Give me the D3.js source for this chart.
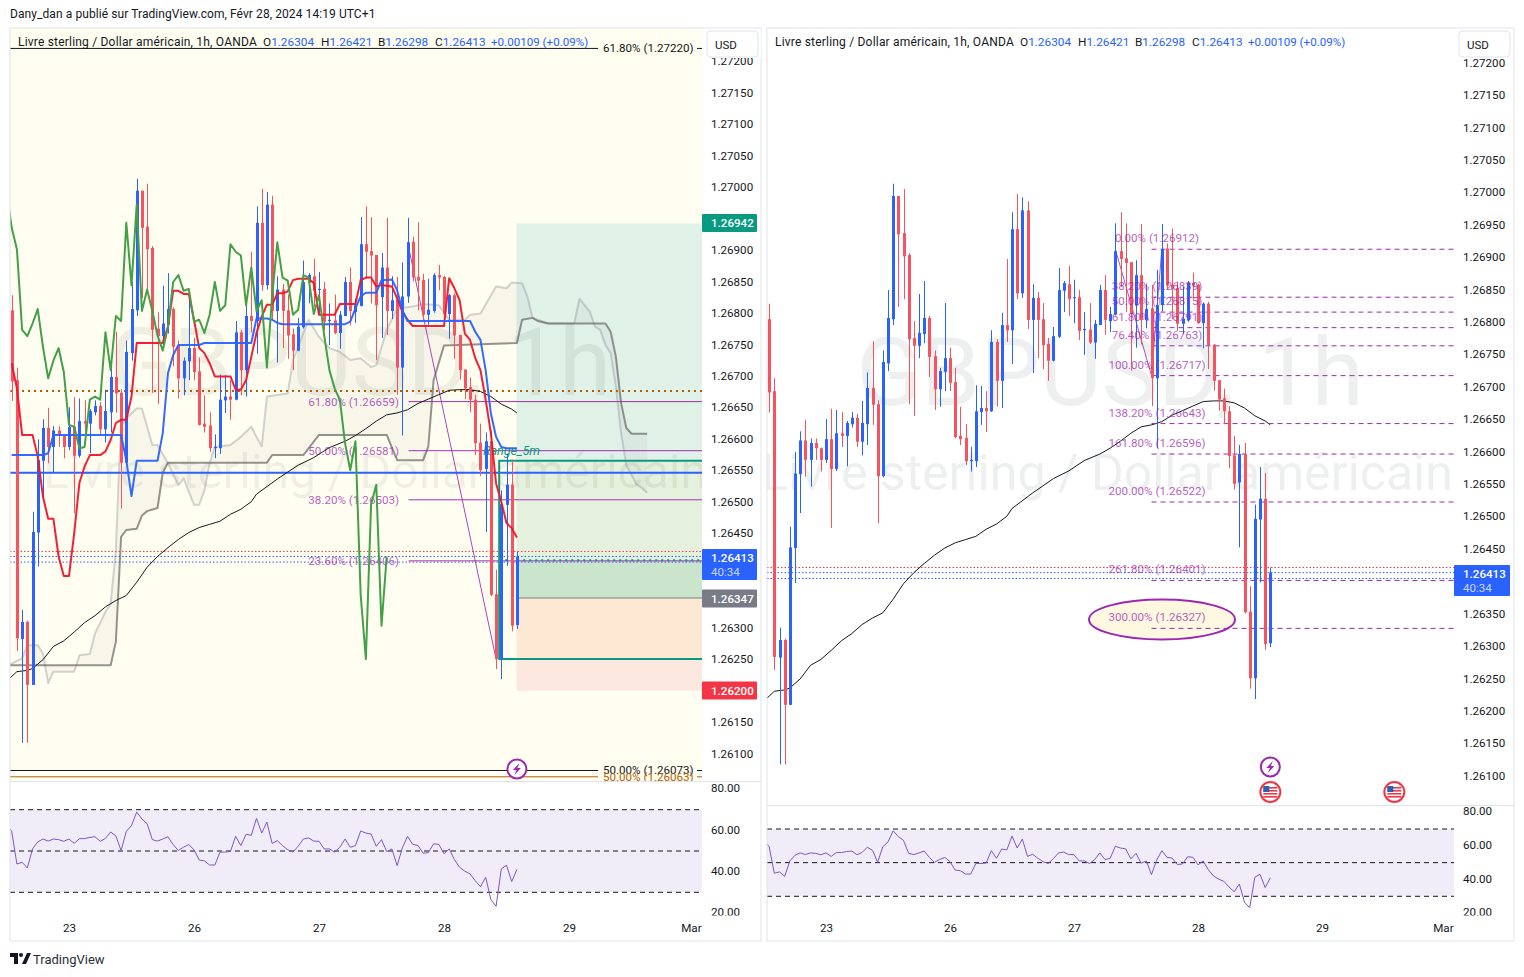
<!DOCTYPE html>
<html><head><meta charset="utf-8">
<script src="https://cdn.jsdelivr.net/npm/d3@7"></script>
<style>
html,body{margin:0;padding:0;background:#fff;overflow:hidden}
svg{display:block}
text{font-family:Roboto,"Liberation Sans",sans-serif;font-size:11.8px;fill:#131722}
.axis path,.axis line{display:none}
.axis text{font-family:Roboto,"Liberation Sans",sans-serif;font-size:11.6px;fill:#131722}
</style></head><body>
<svg id="c" width="1524" height="977"></svg>
<script>
// ---- candles: first bar is 11 hours before Feb 23 00:00, one bar per hour
const firstHour=-11;
const open=[1.26804,1.26693,1.26282,1.26309,1.26209,1.26451,1.26565,1.26617,1.26587,1.26613,1.26605,1.26587,1.26619,1.26573,1.26628,1.26624,1.26642,1.26652,1.26615,1.26642,1.26698,1.26673,1.26562,1.26736,1.26804,1.26994,1.26937,1.26903,1.26775,1.26763,1.26781,1.26806,1.26747,1.26696,1.26723,1.26744,1.26707,1.26624,1.26621,1.26585,1.26585,1.26661,1.26667,1.26662,1.26769,1.26709,1.26795,1.26787,1.26943,1.26844,1.26972,1.26803,1.26837,1.26804,1.26766,1.26740,1.26777,1.26848,1.26858,1.26837,1.26838,1.26787,1.26788,1.26768,1.26795,1.26849,1.26801,1.26811,1.26909,1.26898,1.26892,1.26825,1.26872,1.26803,1.26821,1.26713,1.26826,1.26913,1.26857,1.26852,1.26797,1.26803,1.26860,1.26857,1.26798,1.26828,1.26765,1.26710,1.26682,1.26662,1.26594,1.26552,1.26596,1.26353,1.26250,1.26495,1.26527,1.26304];
const high=[1.26828,1.26713,1.26328,1.26311,1.26484,1.26599,1.26631,1.26649,1.26620,1.26620,1.26606,1.26650,1.26666,1.26664,1.26661,1.26647,1.26661,1.26658,1.26678,1.26722,1.26770,1.26679,1.26756,1.26849,1.27013,1.26994,1.27005,1.26906,1.26801,1.26843,1.26863,1.26809,1.26756,1.26729,1.26829,1.26760,1.26729,1.26669,1.26642,1.26607,1.26702,1.26701,1.26693,1.26787,1.26773,1.26814,1.26897,1.26969,1.26997,1.26992,1.26986,1.26858,1.26846,1.26829,1.26775,1.26792,1.26883,1.26863,1.26886,1.26865,1.26849,1.26815,1.26829,1.26803,1.26857,1.26872,1.26823,1.26952,1.26969,1.26952,1.26892,1.26895,1.26951,1.26858,1.26857,1.26880,1.26951,1.26921,1.26944,1.26862,1.26854,1.26863,1.26876,1.26859,1.26830,1.26831,1.26765,1.26710,1.26697,1.26670,1.26624,1.26610,1.26613,1.26392,1.26518,1.26576,1.26567,1.26421];
const low=[1.26660,1.26263,1.26117,1.26117,1.26209,1.26397,1.26505,1.26561,1.26546,1.26587,1.26569,1.26582,1.26482,1.26570,1.26607,1.26577,1.26637,1.26607,1.26594,1.26610,1.26641,1.26489,1.26560,1.26724,1.26795,1.26823,1.26835,1.26673,1.26655,1.26744,1.26767,1.26715,1.26664,1.26669,1.26693,1.26693,1.26621,1.26610,1.26579,1.26569,1.26576,1.26641,1.26630,1.26661,1.26669,1.26667,1.26769,1.26735,1.26835,1.26837,1.26789,1.26721,1.26744,1.26727,1.26709,1.26739,1.26775,1.26815,1.26809,1.26798,1.26772,1.26749,1.26766,1.26743,1.26795,1.26780,1.26784,1.26810,1.26854,1.26815,1.26725,1.26760,1.26765,1.26790,1.26670,1.26605,1.26816,1.26850,1.26804,1.26786,1.26781,1.26800,1.26836,1.26797,1.26759,1.26727,1.26694,1.26663,1.26642,1.26574,1.26541,1.26452,1.26350,1.26234,1.26218,1.26398,1.26294,1.26298];
const close=[1.26691,1.26283,1.26309,1.26209,1.26452,1.26566,1.26617,1.26587,1.26613,1.26605,1.26587,1.26619,1.26573,1.26628,1.26624,1.26644,1.26652,1.26615,1.26644,1.26698,1.26672,1.26562,1.26738,1.26806,1.26994,1.26935,1.26901,1.26773,1.26763,1.26783,1.26806,1.26746,1.26696,1.26724,1.26744,1.26706,1.26622,1.26619,1.26585,1.26587,1.26662,1.26667,1.26662,1.26769,1.26709,1.26795,1.26787,1.26943,1.26844,1.26972,1.26803,1.26837,1.26803,1.26764,1.26740,1.26778,1.26849,1.26860,1.26835,1.26838,1.26786,1.26789,1.26768,1.26797,1.26849,1.26803,1.26812,1.26909,1.26897,1.26891,1.26812,1.26872,1.26803,1.26820,1.26713,1.26826,1.26912,1.26856,1.26851,1.26797,1.26805,1.26860,1.26856,1.26798,1.26828,1.26764,1.26709,1.26680,1.26662,1.26593,1.26550,1.26596,1.26352,1.26250,1.26496,1.26527,1.26303,1.26413];

// ---- ichimoku, left chart only
const tenkan=[1.26720,1.26680,1.26606,1.26606,1.26606,1.26572,1.26508,1.26473,1.26473,1.26413,1.26382,1.26382,1.26450,1.26530,1.26556,1.26574,1.26574,1.26574,1.26580,1.26598,1.26625,1.26630,1.26630,1.26667,1.26752,1.26752,1.26752,1.26752,1.26752,1.26752,1.26778,1.26835,1.26835,1.26830,1.26830,1.26789,1.26744,1.26736,1.26720,1.26699,1.26699,1.26699,1.26699,1.26678,1.26678,1.26693,1.26730,1.26768,1.26794,1.26813,1.26813,1.26831,1.26831,1.26834,1.26852,1.26854,1.26854,1.26854,1.26847,1.26797,1.26797,1.26797,1.26797,1.26814,1.26814,1.26814,1.26814,1.26852,1.26856,1.26856,1.26842,1.26844,1.26843,1.26842,1.26823,1.26802,1.26789,1.26779,1.26779,1.26779,1.26779,1.26779,1.26779,1.26779,1.26855,1.26839,1.26820,1.26767,1.26757,1.26728,1.26709,1.26662,1.26609,1.26529,1.26500,1.26466,1.26458,1.26443];
const kijun=[1.26574,1.26574,1.26574,1.26574,1.26574,1.26574,1.26574,1.26577,1.26606,1.26606,1.26606,1.26606,1.26606,1.26606,1.26606,1.26606,1.26606,1.26606,1.26606,1.26606,1.26606,1.26606,1.26566,1.26509,1.26565,1.26565,1.26565,1.26565,1.26565,1.26609,1.26704,1.26733,1.26749,1.26749,1.26749,1.26749,1.26749,1.26752,1.26752,1.26752,1.26752,1.26752,1.26752,1.26752,1.26752,1.26752,1.26752,1.26791,1.26791,1.26791,1.26789,1.26784,1.26782,1.26782,1.26782,1.26782,1.26782,1.26782,1.26782,1.26782,1.26782,1.26782,1.26782,1.26782,1.26782,1.26786,1.26807,1.26826,1.26832,1.26832,1.26832,1.26852,1.26852,1.26853,1.26836,1.26804,1.26787,1.26787,1.26787,1.26787,1.26787,1.26787,1.26787,1.26787,1.26787,1.26787,1.26787,1.26787,1.26787,1.26770,1.26757,1.26709,1.26640,1.26603,1.26587,1.26585,1.26585,1.26585];
const laggingFirstHour=-12;
const lagging=[1.26994,1.26935,1.26901,1.26773,1.26763,1.26783,1.26806,1.26746,1.26696,1.26724,1.26744,1.26706,1.26622,1.26619,1.26585,1.26587,1.26662,1.26667,1.26662,1.26769,1.26709,1.26795,1.26787,1.26943,1.26844,1.26972,1.26803,1.26837,1.26803,1.26764,1.26740,1.26778,1.26849,1.26860,1.26835,1.26838,1.26786,1.26789,1.26768,1.26797,1.26849,1.26803,1.26812,1.26909,1.26897,1.26891,1.26812,1.26872,1.26803,1.26820,1.26713,1.26826,1.26912,1.26856,1.26851,1.26797,1.26805,1.26860,1.26856,1.26798,1.26828,1.26764,1.26709,1.26680,1.26662,1.26593,1.26550,1.26596,1.26352,1.26250,1.26496,1.26527,1.26303,1.26413];
const spanAHours=[-12,-9,-8,-6,-5,-4,-3,1,2,4,5,7,8,9,9.6,10,11,13,14,15,16,17,19,21,22,24,25,26,27,28,31,33,35,36,37,38,42,43,46,48,50,52,54,56,58,59,61,63,66,68,71,73,76,77,79,82,84,85,87,88,89,92,97,98,100,101,102,103,104,105,106,107,109,110,111];
const spanA=[1.26239,1.26251,1.26272,1.26272,1.26259,1.26212,1.26230,1.26230,1.26256,1.26258,1.26291,1.26325,1.26338,1.26423,1.26550,1.26619,1.26632,1.26648,1.26648,1.26619,1.26590,1.26590,1.26561,1.26526,1.26537,1.26495,1.26495,1.26518,1.26561,1.26587,1.26590,1.26603,1.26619,1.26603,1.26588,1.26667,1.26672,1.26725,1.26789,1.26762,1.26744,1.26738,1.26725,1.26728,1.26714,1.26717,1.26773,1.26807,1.26810,1.26814,1.26812,1.26789,1.26789,1.26797,1.26799,1.26842,1.26839,1.26848,1.26847,1.26826,1.26792,1.26783,1.26783,1.26822,1.26802,1.26778,1.26773,1.26749,1.26736,1.26683,1.26609,1.26558,1.26527,1.26522,1.26514];
const spanBHours=[-12,8,9,10,11,13,14,15,17,18,19,38,39,45,48,61,63,68,69,70,72,86,87,89,90,92,103,104,105,106,107,108,111];
const spanB=[1.26240,1.26240,1.26278,1.26444,1.26455,1.26457,1.26478,1.26485,1.26490,1.26546,1.26562,1.26562,1.26574,1.26574,1.26606,1.26606,1.26566,1.26566,1.26588,1.26693,1.26748,1.26752,1.26789,1.26792,1.26787,1.26783,1.26783,1.26770,1.26730,1.26657,1.26617,1.26608,1.26608];

// ---- moving average, both charts
const maHours=[-12,-10,-8,-7,-5,-3,-1,1,3,5,7,9,11,13,15,17,19,21,23,25,27,29,31,33,35,36,40,44,47,50,53,55,57,59,61,63,65,67,69,71,73,75,77,79,81,83,85,86];
const maValues=[1.26215,1.26230,1.26232,1.26235,1.26249,1.26270,1.26279,1.26293,1.26308,1.26319,1.26333,1.26343,1.26351,1.26372,1.26396,1.26413,1.26427,1.26440,1.26451,1.26459,1.26464,1.26469,1.26480,1.26488,1.26500,1.26512,1.26536,1.26558,1.26570,1.26586,1.26596,1.26605,1.26616,1.26628,1.26638,1.26641,1.26646,1.26656,1.26663,1.26670,1.26677,1.26678,1.26678,1.26675,1.26667,1.26655,1.26647,1.26641];

// ---- RSI, starts at hour -12
const rsiFirstHour=-12;
const rsi=[63.1,59.5,43.7,44.5,41.8,51.0,54.4,55.8,54.8,55.8,55.5,54.7,55.8,53.7,56.0,56.0,56.6,56.9,54.7,56.1,59.2,57.3,50.2,59.5,62.3,68.9,65.5,63.2,55.5,54.8,55.8,56.9,53.1,50.2,51.9,53.1,50.6,45.6,45.2,43.2,43.2,49.5,49.5,49.8,57.1,52.6,58.1,57.6,65.8,58.7,64.0,53.7,55.0,52.6,50.6,49.5,52.3,55.8,56.3,54.8,54.7,51.0,51.0,49.5,51.8,55.8,51.8,52.6,59.7,58.7,58.2,52.3,55.5,49.7,51.0,42.9,51.5,57.1,53.2,52.7,48.9,49.2,53.5,53.2,48.7,51.0,45.8,42.1,40.2,38.9,35.6,32.7,37.3,26.5,23.2,41.3,43.1,35.2,41.0];
const rsiLevels=[70,50,30];
const rsiTicks=[80,60,40,20];

// ---- axes
const priceTicks=[1.272,1.2715,1.271,1.2705,1.27,1.2695,1.269,1.2685,1.268,1.2675,1.267,1.2665,1.266,1.2655,1.265,1.2645,1.264,1.2635,1.263,1.2625,1.262,1.2615,1.261];
const dayHours=[0,24,48,72,96,119.4];
const dayLabels=["23","26","27","28","29","Mar"];

// ---- left chart levels
const leftFibPrices=[1.26659,1.26581,1.26503,1.26406];
const leftFibLabels=["61.80% (1.26659)","50.00% (1.26581)","38.20% (1.26503)","23.60% (1.26406)"];
const leftFarPrices=[1.27220,1.26073,1.26063];
const leftFarLabels=["61.80% (1.27220)","50.00% (1.26073)","50.00% (1.26063)"];
const leftFarColors=["#131722","#131722","#b45f06"];
const supportPrice=1.26676, resistPrice=1.26546;
const dottedPrices=[1.26421,1.26413,1.26404];
const dottedColors=["#f23645","#2962ff","#2962ff"];
const bandTops=[1.26942,1.26565,1.26406,1.26347,1.26250];
const bandBottoms=[1.26565,1.26406,1.26347,1.26250,1.26200];
const bandColors=["#e0f1e8","#e5f1dc","#cbe5cc","#fde8d4","#fde8df"];
const rangeTop=1.26565, rangeMid=1.26407, rangeBottom=1.26250;

// ---- right chart fibonacci
const rightFibPrices=[1.26912,1.26838,1.26815,1.26791,1.26763,1.26717,1.26643,1.26596,1.26522,1.26401,1.26327];
const rightFibLabels=["0.00% (1.26912)","38.20% (1.26839)","50.00% (1.26815)","61.80% (1.26791)","76.40% (1.26763)","100.00% (1.26717)","138.20% (1.26643)","161.80% (1.26596)","200.00% (1.26522)","261.80% (1.26401)","300.00% (1.26327)"];

const purple="#9c27b0", blue="#2962ff", redC="#f7525f", teal="#089981";
const svg=d3.select("#c");
const defs=svg.append("defs");
function clip(id,x,y,w,h){defs.append("clipPath").attr("id",id).append("rect").attr("x",x).attr("y",y).attr("width",w).attr("height",h);return "url(#"+id+")";}
function hourAt(i,first){return first+i;}
const hours=close.map((_,i)=>hourAt(i,firstHour));

function drawLine(g,xs,ys,hs,vals,color,w,op){
  g.append("path").datum(vals).attr("fill","none").attr("stroke",color).attr("stroke-width",w).attr("stroke-opacity",op||1).attr("stroke-linejoin","round")
   .attr("d",d3.line().x((d,i)=>xs(hs[i])).y(d=>ys(d)));
}
function candles(g,xs,ys){
  const b=g.selectAll("g.b").data(hours).join("g");
  b.append("line").attr("x1",d=>Math.round(xs(d))+.5).attr("x2",d=>Math.round(xs(d))+.5)
    .attr("y1",(d,i)=>ys(high[i])).attr("y2",(d,i)=>ys(low[i]))
    .attr("stroke",(d,i)=>close[i]>=open[i]?blue:redC).attr("stroke-width",1);
  b.append("rect").attr("x",d=>Math.round(xs(d))-1).attr("width",3)
    .attr("y",(d,i)=>ys(Math.max(open[i],close[i])))
    .attr("height",(d,i)=>Math.max(1,Math.abs(ys(open[i])-ys(close[i]))))
    .attr("fill",(d,i)=>close[i]>=open[i]?blue:redC);
}
function bolt(g,cx,cy){
  g.append("circle").attr("cx",cx).attr("cy",cy).attr("r",9.5).attr("fill","#fff").attr("stroke",purple).attr("stroke-width",2);
  g.append("path").attr("transform",`translate(${cx},${cy})`).attr("d","M2.5,-6 L-4,1 L-0.5,1 L-2.5,6 L4,-1 L0.5,-1 Z").attr("fill",purple);
}
function flag(g,cx,cy){
  g.append("circle").attr("cx",cx).attr("cy",cy).attr("r",10).attr("fill","#fff").attr("stroke","#f23645").attr("stroke-width",2);
  [-5,-2,1,4].forEach(d=>g.append("rect").attr("x",cx-7).attr("y",cy+d).attr("width",14).attr("height",1.6).attr("fill","#f23645"));
  g.append("rect").attr("x",cx-7).attr("y",cy-6).attr("width",6).attr("height",6).attr("fill","#2962b0");
}
function usd(x){
  svg.append("rect").attr("x",x-3).attr("y",29).attr("width",57).attr("height",29).attr("fill","#fff");
  svg.append("rect").attr("x",x).attr("y",31).attr("width",51).attr("height",26).attr("rx",4).attr("fill","#fff").attr("stroke","#e0e3eb");
  svg.append("text").attr("x",x+8).attr("y",48.5).text("USD").style("font-size","11.5px");
}
function tag(x,yc,w,h,color,txt,sub){
  svg.append("rect").attr("x",x).attr("y",yc-h/2).attr("width",w).attr("height",h).attr("rx",1).attr("fill",color);
  svg.append("text").attr("x",x+9).attr("y",sub?yc-h/2+13:yc+4).text(txt).style("fill","#fff").style("font-weight",500).style("font-size","11.6px");
  if(sub) svg.append("text").attr("x",x+9).attr("y",yc-h/2+27).text(sub).style("fill","#c7d5ff").style("font-size","11.6px");
}
function legend(x0){
  const g=svg.append("g");
  g.append("text").attr("x",x0).attr("y",46).text("Livre sterling / Dollar américain, 1h, OANDA").style("font-size","12px").style("letter-spacing",".2px");
  const parts=[["O",245,"1.26304"],["H",303,"1.26421"],["B",360,"1.26298"],["C",417,"1.26413"]];
  parts.forEach(p=>{
    const t=g.append("text").attr("x",x0+p[1]).attr("y",46);
    t.append("tspan").text(p[0]);
    t.append("tspan").text(p[2]).style("fill",blue);
  });
  g.append("text").attr("x",x0+473).attr("y",46).text("+0.00109 (+0.09%)").style("fill",blue).style("font-size","11.6px");
}
function axes(xs,ys,ry,axisX){
  svg.append("g").attr("class","axis").attr("transform",`translate(${axisX},0)`)
    .call(d3.axisRight(ys).tickValues(priceTicks).tickSize(0).tickPadding(0).tickFormat(d3.format(".5f")))
    .call(g=>g.select(".domain").remove());
  svg.append("g").attr("class","axis").attr("transform",`translate(${axisX},-1)`)
    .call(d3.axisRight(ry).tickValues(rsiTicks).tickSize(0).tickPadding(0).tickFormat(d3.format(".2f")))
    .call(g=>g.select(".domain").remove());
}
function timeAxis(xs,y){
  svg.append("g").attr("class","axis").attr("transform",`translate(0,${y})`)
    .call(d3.axisBottom(xs).tickValues(dayHours).tickSize(0).tickPadding(0).tickFormat((d,i)=>dayLabels[i]))
    .call(g=>g.select(".domain").remove());
}
function rsiPane(xs,ry,left,right,cl){
  const g=svg.append("g").attr("clip-path",cl);
  g.append("rect").attr("x",left).attr("width",right-left).attr("y",ry(70)).attr("height",ry(30)-ry(70)).attr("fill","#7e57c2").attr("fill-opacity",.11);
  rsiLevels.forEach(l=>g.append("line").attr("x1",left).attr("x2",right).attr("y1",ry(l)).attr("y2",ry(l)).attr("stroke","#131722").attr("stroke-dasharray","5 4"));
  drawLine(g,xs,ry,rsi.map((_,i)=>rsiFirstHour+i),rsi,"#7e57c2",1);
}
function watermark(g,cx1,cx2,y1,y2,size1,size2){
  g.append("text").attr("x",cx1).attr("y",y1).attr("text-anchor","middle").text("GBPUSD, 1h").style("font-size",size1+"px").style("fill","#131722").style("fill-opacity",.07);
  g.append("text").attr("x",cx2).attr("y",y2).attr("text-anchor","middle").text("Livre sterling / Dollar américain").style("font-size",size2+"px").style("fill","#131722").style("fill-opacity",.07);
}

// ===== page text
svg.append("text").attr("x",10).attr("y",18).text("Dany_dan a publié sur TradingView.com, Févr 28, 2024 14:19 UTC+1").style("font-size","12px").style("letter-spacing",".08px");
const logo=svg.append("g").attr("transform","translate(10,953)");
logo.append("path").attr("d","M0,0 H8 V11 H4 V4 H0 Z M17,0 H21 L16,11 H12 Z").attr("fill","#131722");
logo.append("circle").attr("cx",11).attr("cy",2).attr("r",2).attr("fill","#131722");
svg.append("text").attr("x",33).attr("y",964).text("TradingView").style("font-size","13px").style("fill","#2a2e39");

// ===== LEFT
{
  const xs=d3.scaleLinear().domain([0,96]).range([69,569]);
  const ys=d3.scaleLinear().domain([1.2715,1.261]).range([92.5,753.5]);
  const ry=d3.scaleLinear().domain([70,30]).range([809.7,892.3]);
  const L=10,R=702,T=28,B=781;
  svg.append("rect").attr("x",L).attr("y",T).attr("width",R-L).attr("height",B-T).attr("fill","#fffef0");
  const g=svg.append("g").attr("clip-path",clip("cl",L,T,R-L,B-T));
  const bx=xs(86)-.5;
  bandTops.forEach((t,i)=>g.append("rect").attr("x",bx).attr("width",R-bx).attr("y",ys(t)).attr("height",ys(bandBottoms[i])-ys(t)).attr("fill",bandColors[i]));
  watermark(g,360,375,395,488,94,48);
  // cloud
  const a=spanAHours.map((h,i)=>[h,spanA[i]]), b=spanBHours.map((h,i)=>[h,spanB[i]]);
  g.append("path").attr("d",d3.line().x(d=>xs(d[0])).y(d=>ys(d[1]))(a.concat(b.slice().reverse()))+"Z").attr("fill","#787b86").attr("fill-opacity",.06);
  drawLine(g,xs,ys,spanAHours,spanA,"#787b86",2,.32);
  drawLine(g,xs,ys,spanBHours,spanB,"#6b6b66",2,.72);
  // levels
  g.append("line").attr("x1",L).attr("x2",R).attr("y1",ys(supportPrice)).attr("y2",ys(supportPrice)).attr("stroke","#b45f06").attr("stroke-width",2).attr("stroke-dasharray","2 4");
  g.append("line").attr("x1",L).attr("x2",R).attr("y1",ys(resistPrice)).attr("y2",ys(resistPrice)).attr("stroke",blue).attr("stroke-width",2);
  dottedPrices.forEach((p,i)=>g.append("line").attr("x1",L).attr("x2",R).attr("y1",ys(p)).attr("y2",ys(p)).attr("stroke",dottedColors[i]).attr("stroke-dasharray","1.5 2"));
  g.append("line").attr("x1",bx).attr("x2",R).attr("y1",ys(1.26347)).attr("y2",ys(1.26347)).attr("stroke","#787b86");
  // fib
  leftFibPrices.forEach((p,i)=>{
    g.append("line").attr("x1",xs(65.2)).attr("x2",R).attr("y1",ys(p)).attr("y2",ys(p)).attr("stroke",purple).attr("stroke-opacity",.95);
    g.append("text").attr("x",399).attr("y",ys(p)+4).attr("text-anchor","end").text(leftFibLabels[i]).style("fill",purple).style("fill-opacity",.75).style("font-size","11.6px");
  });
  g.append("path").attr("d",d3.line().x(d=>xs(d[0])).y(d=>ys(d[1]))([[65,1.26912],[82,1.26250]])).attr("fill","none").attr("stroke",purple).attr("stroke-opacity",.85);
  // range box
  const rx=xs(82.6);
  g.append("path").attr("d",`M${R},${ys(rangeTop)}H${rx}V${ys(rangeBottom)}H${R}`).attr("fill","none").attr("stroke",teal).attr("stroke-width",2);
  g.append("line").attr("x1",rx).attr("x2",R).attr("y1",ys(rangeMid)).attr("y2",ys(rangeMid)).attr("stroke",teal).attr("stroke-width",2).attr("stroke-dasharray","2 4");
  g.append("text").attr("x",483).attr("y",455).text("Range_5m").style("fill",teal).style("font-style","italic").style("font-size","12.5px");
  // far fib
  leftFarPrices.forEach((p,i)=>{
    g.append("line").attr("x1",L).attr("x2",598).attr("y1",ys(p)).attr("y2",ys(p)).attr("stroke",leftFarColors[i]);
    g.append("line").attr("x1",697).attr("x2",R).attr("y1",ys(p)).attr("y2",ys(p)).attr("stroke",leftFarColors[i]);
  });
  drawLine(g,xs,ys,maHours,maValues,"#131722",1);
  candles(g,xs,ys);
  drawLine(g,xs,ys,hours,tenkan,"#f0142a",2,.95);
  drawLine(g,xs,ys,hours,kijun,blue,2,.95);
  drawLine(g,xs,ys,lagging.map((_,i)=>laggingFirstHour+i),lagging,"#43a047",2);
  leftFarPrices.forEach((p,i)=>g.append("text").attr("x",603).attr("y",ys(p)+4).text(leftFarLabels[i]).style("fill",leftFarColors[i]).style("font-size","11.6px"));
  bolt(g,xs(86),769);
  rsiPane(xs,ry,L,R,clip("cr",L,782,R-L,135));
  axes(xs,ys,ry,711);
  svg.append("rect").attr("x",10).attr("y",915.5).attr("width",750).attr("height",25).attr("fill","#fff");
  timeAxis(xs,924);
  svg.append("line").attr("x1",L).attr("x2",761).attr("y1",B+.5).attr("y2",B+.5).attr("stroke","#e0e3eb");
  svg.append("rect").attr("x",10).attr("y",28).attr("width",751).attr("height",913).attr("fill","none").attr("stroke","#e0e3eb");
  tag(702,223,55,18,teal,"1.26942");
  tag(702,564.5,55,31,blue,"1.26413","40:34");
  tag(702,598.5,55,18,"#787b86","1.26347");
  tag(702,690.5,55,18,"#f23645","1.26200");
  usd(707);
  legend(18);
}

// ===== RIGHT
{
  const xs=d3.scaleLinear().domain([0,96]).range([826,1322]);
  const ys=d3.scaleLinear().domain([1.2715,1.261]).range([95,775.5]);
  const ry=d3.scaleLinear().domain([70,30]).range([829,896.3]);
  const L=767,R=1454,T=28,B=805;
  const g=svg.append("g").attr("clip-path",clip("cr2",L,T,R-L,B-T));
  watermark(g,1110,1107,405,490,95,50);
  dottedPrices.forEach((p,i)=>g.append("line").attr("x1",L).attr("x2",R).attr("y1",ys(p)).attr("y2",ys(p)).attr("stroke",dottedColors[i]).attr("stroke-dasharray","1.5 2"));
  drawLine(g,xs,ys,maHours,maValues,"#131722",1);
  g.append("ellipse").attr("cx",1162).attr("cy",619.5).attr("rx",73).attr("ry",20).attr("fill","#fff8e1").attr("stroke",purple).attr("stroke-width",2);
  g.append("path").attr("d",d3.line().x(d=>xs(d[0])).y(d=>ys(d[1]))([[56,1.26912],[63,1.26717],[65,1.26912]])).attr("fill","none").attr("stroke",purple).attr("stroke-opacity",.8);
  rightFibPrices.forEach(p=>g.append("line").attr("x1",xs(63)).attr("x2",R).attr("y1",ys(p)).attr("y2",ys(p)).attr("stroke",purple).attr("stroke-dasharray","5 4"));
  candles(g,xs,ys);
  rightFibPrices.forEach((p,i)=>g.append("text").attr("x",1157).attr("y",ys(p)-7).attr("text-anchor","middle").text(rightFibLabels[i]).style("fill",purple).style("fill-opacity",.75).style("font-size","11.6px"));
  bolt(g,xs(86),767);
  flag(g,xs(86),792);
  flag(g,xs(110),792);
  rsiPane(xs,ry,L,R,clip("cr3",L,806,R-L,111));
  axes(xs,ys,ry,1463);
  svg.append("rect").attr("x",767).attr("y",915.5).attr("width",747).attr("height",25).attr("fill","#fff");
  timeAxis(xs,924);
  svg.append("line").attr("x1",L).attr("x2",1514).attr("y1",B+.5).attr("y2",B+.5).attr("stroke","#e0e3eb");
  svg.append("rect").attr("x",767).attr("y",28).attr("width",747).attr("height",913).attr("fill","none").attr("stroke","#e0e3eb");
  tag(1454,580.5,56,31,blue,"1.26413","40:34");
  usd(1459);
  legend(775);
}
</script>
</body></html>
